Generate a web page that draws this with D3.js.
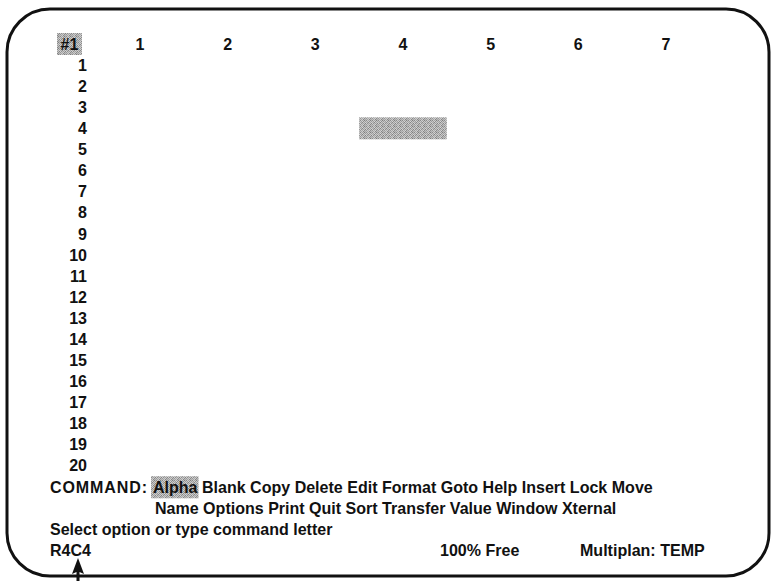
<!DOCTYPE html>
<html>
<head>
<meta charset="utf-8">
<script src="https://cdn.jsdelivr.net/npm/d3@7"></script>
<style>
  body { margin: 0; background: #fff; }
  svg { display: block; }
</style>
</head>
<body>
<div id="screen"></div>
<script>
// Screen contents
const cornerLabel = "#1";
const columnLabels = ["1", "2", "3", "4", "5", "6", "7"];
const rowLabels = ["1", "2", "3", "4", "5", "6", "7", "8", "9", "10",
                   "11", "12", "13", "14", "15", "16", "17", "18", "19", "20"];
const activeRow = "4";
const activeColumn = "4";
const commandPrefix = "COMMAND:";
const commandWords1 = ["Alpha", "Blank", "Copy", "Delete", "Edit", "Format", "Goto", "Help", "Insert", "Lock", "Move"];
const commandWords2 = ["Name", "Options", "Print", "Quit", "Sort", "Transfer", "Value", "Window", "Xternal"];
const messageText = "Select option or type command letter";
const cellRef = "R4C4";
const freeText = "100% Free";
const fileText = "Multiplan: TEMP";

const width = 773,
    height = 581;

const svg = d3.select("#screen")
    .append("svg")
    .attr("width", width)
    .attr("height", height);

// dithered grey used for highlights (fixed halftone tile)
const defs = svg.append("defs");
const pat = defs.append("pattern")
    .attr("id", "dither")
    .attr("patternUnits", "userSpaceOnUse")
    .attr("width", 6)
    .attr("height", 6);
const shades = [
    ["#8a8a8a", "#cfcfcf", "#a2a2a2", "#c6c6c6", "#7e7e7e", "#bcbcbc"],
    ["#c9c9c9", "#9c9c9c", "#d6d6d6", "#8c8c8c", "#cacaca", "#9a9a9a"],
    ["#a6a6a6", "#bfbfbf", "#858585", "#cdcdcd", "#a0a0a0", "#d2d2d2"],
    ["#d4d4d4", "#8e8e8e", "#c3c3c3", "#9e9e9e", "#c8c8c8", "#848484"],
    ["#969696", "#cccccc", "#a9a9a9", "#d0d0d0", "#8b8b8b", "#bebebe"],
    ["#c2c2c2", "#a3a3a3", "#d1d1d1", "#868686", "#b8b8b8", "#a5a5a5"]
];
shades.forEach((row, j) => row.forEach((c, i) => {
    pat.append("rect").attr("x", i).attr("y", j).attr("width", 1).attr("height", 1).attr("fill", c);
}));

// Screen border
svg.append("rect")
    .attr("x", 7)
    .attr("y", 9)
    .attr("width", 762)
    .attr("height", 567)
    .attr("rx", 43)
    .attr("fill", "none")
    .attr("stroke", "#111")
    .attr("stroke-width", 3);

// Scales: columns across, screen lines down
const xScale = d3.scalePoint()
    .domain(columnLabels)
    .range([140, 666]);
const cellWidth = xScale.step();

const lineY = d3.scaleLinear()
    .domain([0, 24])
    .range([44, 550]);
const lineH = lineY(1) - lineY(0);

const font = "'Liberation Sans', Arial, Helvetica, sans-serif";
const textColor = "#111";

// menu words start after the prefix and run to "Move"
const left = 50;
const menuX = 153,
    menuEnd = 653;

// fit the font size to the menu width
const probe = svg.append("text")
    .attr("font-family", font)
    .attr("font-weight", "bold")
    .attr("font-size", 16)
    .text(commandWords1.join(" "));
const fontSize = 16 * (menuEnd - menuX) / probe.node().getComputedTextLength();
probe.remove();

function label(x, y, str, anchor) {
    return svg.append("text")
        .attr("x", x)
        .attr("y", y)
        .attr("dy", "0.36em")
        .attr("text-anchor", anchor || "start")
        .attr("font-family", font)
        .attr("font-weight", "bold")
        .attr("font-size", fontSize)
        .attr("fill", textColor)
        .text(str);
}

// Active cell highlight
svg.append("rect")
    .attr("x", xScale(activeColumn) - cellWidth / 2)
    .attr("y", lineY(rowLabels.indexOf(activeRow) + 1) - 11)
    .attr("width", cellWidth)
    .attr("height", 22)
    .attr("fill", "url(#dither)");

// Corner window label
const rowRight = 87;
svg.append("rect")
    .attr("x", 57)
    .attr("y", lineY(0) - 11)
    .attr("width", 25)
    .attr("height", 22)
    .attr("fill", "url(#dither)");
label(69.5, lineY(0), cornerLabel, "middle");

// Column headers
svg.selectAll(".col")
    .data(columnLabels)
    .enter().append("text")
    .attr("class", "col")
    .attr("x", d => xScale(d))
    .attr("y", lineY(0))
    .attr("dy", "0.36em")
    .attr("text-anchor", "middle")
    .attr("font-family", font)
    .attr("font-weight", "bold")
    .attr("font-size", fontSize)
    .attr("fill", textColor)
    .text(d => d);

// Row headers
svg.selectAll(".row")
    .data(rowLabels)
    .enter().append("text")
    .attr("class", "row")
    .attr("x", rowRight)
    .attr("y", (d, i) => lineY(i + 1))
    .attr("dy", "0.36em")
    .attr("text-anchor", "end")
    .attr("font-family", font)
    .attr("font-weight", "bold")
    .attr("font-size", fontSize)
    .attr("fill", textColor)
    .text(d => d);

// Command menu
const cmdY = lineY(21);
label(left, cmdY, commandPrefix)
    .attr("textLength", menuX - left - 6)
    .attr("lengthAdjust", "spacing");
const menu = label(menuX, cmdY, commandWords1.join(" "));
const a0 = menu.node().getStartPositionOfChar(0).x;
const a1 = menu.node().getEndPositionOfChar(commandWords1[0].length - 1).x;
svg.insert("rect", "text")
    .attr("x", a0 - 2)
    .attr("y", cmdY - lineH / 2)
    .attr("width", a1 - a0 + 3)
    .attr("height", lineH + 1)
    .attr("fill", "url(#dither)");

label(menuX + 2, lineY(22), commandWords2.join(" "));
label(left, lineY(23), messageText);

// Status line
label(left, lineY(24), cellRef);
label(440, lineY(24), freeText);
label(580, lineY(24), fileText);

// Pointer arrow under the cell reference
const ax = 78, ay = lineY(24) + 8;
svg.append("path")
    .attr("d", `M${ax},${ay} L${ax + 6},${ay + 16} L${ax + 1.5},${ay + 14} L${ax + 1.5},${height} L${ax - 1.5},${height} L${ax - 1.5},${ay + 14} L${ax - 6},${ay + 16} Z`)
    .attr("fill", textColor);
</script>
</body>
</html>
